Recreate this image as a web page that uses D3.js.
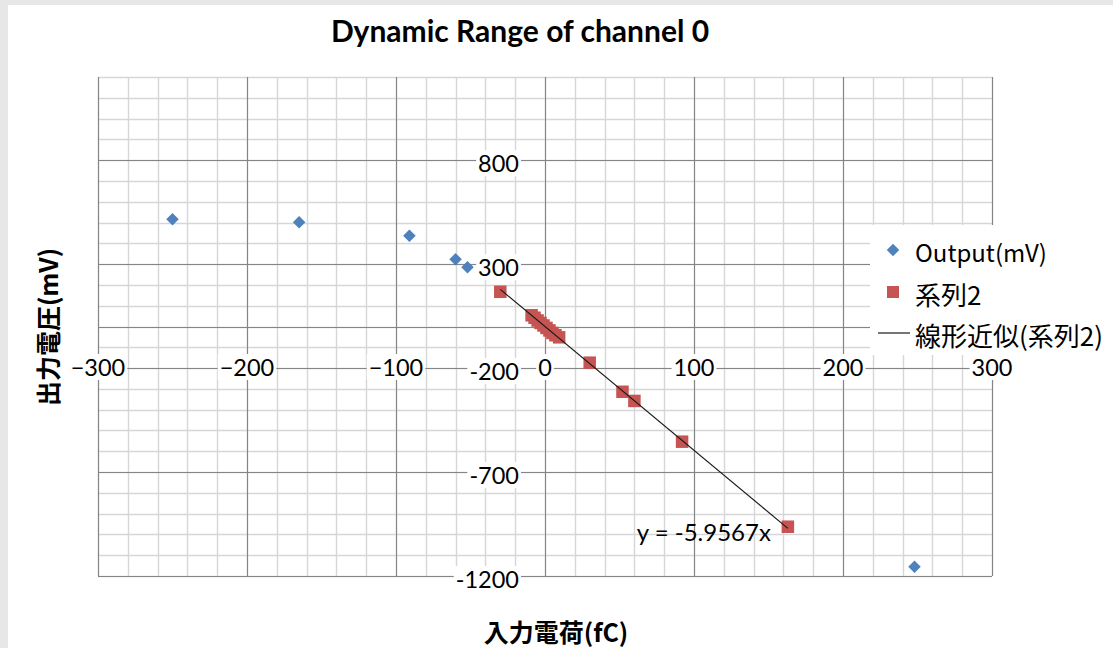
<!DOCTYPE html>
<html>
<head>
<meta charset="utf-8">
<script src="https://cdn.jsdelivr.net/npm/d3@7"></script>
<style>
  html, body { margin: 0; padding: 0; background: #e6e7e6; }
  svg { display: block; }
</style>
</head>
<body>
<svg id="chart" width="1113" height="648"></svg>
<script>
// ---- data ----
const outputX = [-250, -165, -91, -60, -52, 248];
const outputY = [516, 501, 437, 323, 285, -1155];

const series2X = [-30, -9, -7, -5, -3, -1, 1, 3, 5, 7, 9.5, 30, 52, 60, 92, 163];
const series2Y = [167, 54, 42, 29, 17, 5, -7, -19, -31, -42, -52, -174, -314, -358, -554, -963];

const trendSlope = -5.9567;
const trendLabel = "y = -5.9567x";

const xTicks = [-300, -200, -100, 0, 100, 200, 300];
const xTickLabels = ["\u2212300", "\u2212200", "\u2212100", "0", "100", "200", "300"];
const yTicks = [-1200, -700, -200, 300, 800];
const yTickLabels = ["-1200", "-700", "-200", "300", "800"];

const titleText = "Dynamic Range of channel 0";
const xTitle = "入力電荷(fC)";
const yTitle = "出力電圧(mV)";
const legendNames = ["Output(mV)", "系列2", "線形近似(系列2)"];

// ---- layout ----
const svg = d3.select("#chart");
const latin = "Lato, 'Noto Sans CJK JP', sans-serif";
const cjk = "'Noto Sans CJK JP', Lato, sans-serif";

svg.append("rect").attr("x", 8).attr("y", 5).attr("width", 1105).attr("height", 643).attr("fill", "#fff");

const x = d3.scaleLinear().domain([-300, 300]).range([98, 992]);
const y = d3.scaleLinear().domain([-1200, 1200]).range([576, 77]);

const grid = svg.append("g");
const minorColor = "#d6d6d6", majorColor = "#858585";

// minor grid
grid.selectAll(".vmin").data(d3.range(-300, 301, 20)).join("line")
  .attr("x1", d => Math.round(x(d)) + 0.5).attr("x2", d => Math.round(x(d)) + 0.5)
  .attr("y1", y(1200)).attr("y2", y(-1200))
  .attr("stroke", minorColor).attr("stroke-width", 1.4);
grid.selectAll(".hmin").data(d3.range(-1200, 1201, 100)).join("line")
  .attr("y1", d => Math.round(y(d)) + 0.5).attr("y2", d => Math.round(y(d)) + 0.5)
  .attr("x1", x(-300)).attr("x2", x(300))
  .attr("stroke", minorColor).attr("stroke-width", 1.4);

// major grid
grid.selectAll(".vmaj").data(xTicks).join("line")
  .attr("x1", d => Math.round(x(d)) + 0.5).attr("x2", d => Math.round(x(d)) + 0.5)
  .attr("y1", y(1200)).attr("y2", y(-1200))
  .attr("stroke", majorColor).attr("stroke-width", 1.1);
grid.selectAll(".hmaj").data(yTicks).join("line")
  .attr("y1", d => Math.round(y(d)) + 0.5).attr("y2", d => Math.round(y(d)) + 0.5)
  .attr("x1", x(-300)).attr("x2", x(300))
  .attr("stroke", majorColor).attr("stroke-width", 1.1);

// horizontal axis line at zero
grid.append("line")
  .attr("x1", x(-300)).attr("x2", x(300))
  .attr("y1", Math.round(y(0)) + 0.5).attr("y2", Math.round(y(0)) + 0.5)
  .attr("stroke", majorColor).attr("stroke-width", 1.1);

// tick labels with white backing
function labelWithBg(g, tx, ty, text, anchor) {
  const t = g.append("text").attr("x", tx).attr("y", ty)
    .attr("text-anchor", anchor).attr("dominant-baseline", "central")
    .attr("font-family", latin).attr("font-size", 23.5).attr("fill", "#000").text(text);
  const b = t.node().getBBox();
  g.insert("rect", () => t.node())
    .attr("x", b.x - 2).attr("y", b.y + 1).attr("width", b.width + 4).attr("height", b.height - 2)
    .attr("fill", "#fff");
}
const labels = svg.append("g");
xTicks.forEach((v, i) => labelWithBg(labels, x(v), 367, xTickLabels[i], "middle"));
yTicks.forEach((v, i) => labelWithBg(labels, x(0) - 26, y(v) + 3, yTickLabels[i], "end"));

// trend line over the series 2 range
const tx0 = d3.min(series2X), tx1 = d3.max(series2X);
const trend = () => svg.append("line")
  .attr("x1", x(tx0)).attr("y1", y(trendSlope * tx0))
  .attr("x2", x(tx1)).attr("y2", y(trendSlope * tx1))
  .attr("stroke", "#1a1a1a").attr("stroke-width", 1.2);

// series 2 squares
const sq = 12.5;
svg.append("g").selectAll("rect").data(series2X.map((v, i) => [v, series2Y[i]])).join("rect")
  .attr("x", d => x(d[0]) - sq / 2).attr("y", d => y(d[1]) - sq / 2)
  .attr("width", sq).attr("height", sq).attr("fill", "#c65452");

// trend line drawn above the squares
trend();

// output diamonds
const diamond = d3.symbol().type(d3.symbolDiamond2).size(100);
svg.append("g").selectAll("path").data(outputX.map((v, i) => [v, outputY[i]])).join("path")
  .attr("transform", d => `translate(${x(d[0])},${y(d[1])})`)
  .attr("d", diamond).attr("fill", "#4f81bd");

// equation label
svg.append("text")
  .attr("x", x(tx1) - 17).attr("y", y(trendSlope * tx1) + 3)
  .attr("text-anchor", "end").attr("dominant-baseline", "central")
  .attr("font-family", latin).attr("font-size", 24).attr("fill", "#000").text(trendLabel);

// title
svg.append("text").attr("x", 520).attr("y", 30)
  .attr("text-anchor", "middle").attr("dominant-baseline", "central")
  .attr("font-family", latin).attr("font-weight", "bold").attr("font-size", 30).text(titleText);

// axis titles
svg.append("text").attr("x", 556).attr("y", 631)
  .attr("text-anchor", "middle").attr("dominant-baseline", "central")
  .attr("font-family", cjk).attr("font-weight", "bold").attr("font-size", 25).text(xTitle);
svg.append("text").attr("transform", "translate(47,327) rotate(-90)")
  .attr("text-anchor", "middle").attr("dominant-baseline", "central")
  .attr("font-family", cjk).attr("font-weight", "bold").attr("font-size", 25).text(yTitle);

// legend
const lg = svg.append("g");
lg.append("rect").attr("x", 870).attr("y", 225).attr("width", 243).attr("height", 130).attr("fill", "#fff");
const rowY = [250, 292, 333];
const legendSizes = [24, 26, 26];
lg.append("path").attr("transform", `translate(893,${rowY[0]})`).attr("d", diamond).attr("fill", "#4f81bd");
lg.append("rect").attr("x", 887).attr("y", rowY[1] - 6).attr("width", 12).attr("height", 12).attr("fill", "#c65452");
lg.append("line").attr("x1", 878).attr("x2", 910).attr("y1", rowY[2]).attr("y2", rowY[2])
  .attr("stroke", "#1a1a1a").attr("stroke-width", 1.2);
legendNames.forEach((n, i) => {
  lg.append("text").attr("x", 915).attr("y", rowY[i] + 1)
    .attr("dominant-baseline", "central")
    .attr("font-family", cjk).attr("font-size", legendSizes[i]).attr("fill", "#000").text(n);
});
</script>
</body>
</html>
